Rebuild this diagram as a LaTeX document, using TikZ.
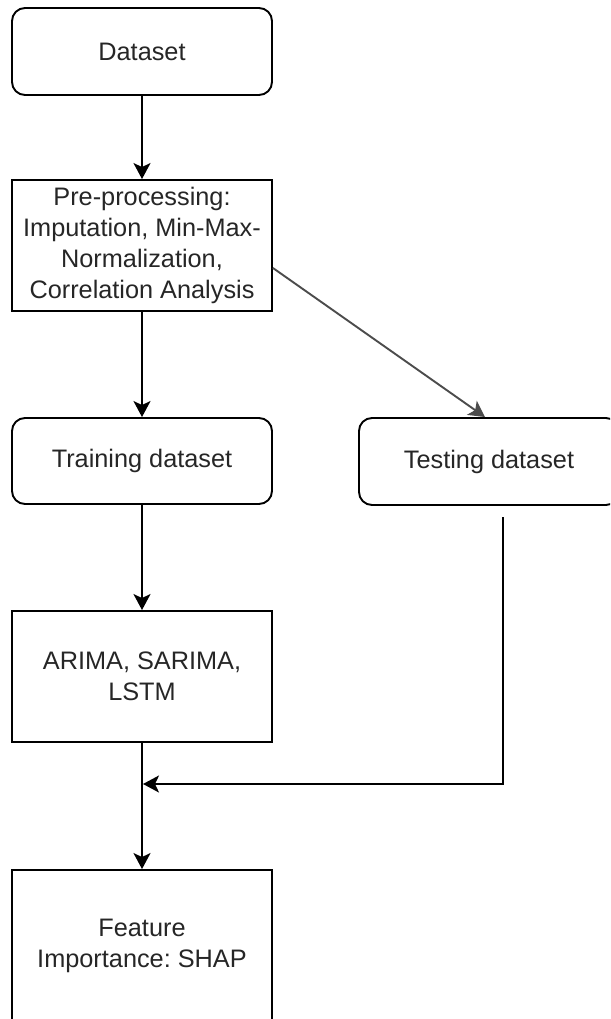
\documentclass[tikz,border=0pt]{standalone}
\usepackage{fontspec}
\setmainfont{Liberation Sans}
\usetikzlibrary{arrows.meta}
\frenchspacing

\begin{document}
\begin{tikzpicture}[x=1pt, y=-1pt,
    box/.style={draw=black, line width=1.9pt, minimum width=260pt, align=center,
        text=black!85, font=\fontsize{25.3}{31}\selectfont},
    roundbox/.style={box, rounded corners=13pt},
    flow/.style={line width=1.9pt, -{Stealth[length=16pt, width=17pt, inset=4pt]}}]
    \useasboundingbox (0,0) rectangle (610,1019);
    \clip (0,0) rectangle (610,1019);

    % Boxes
    \node[roundbox, minimum height=87pt] (data) at (142,51.5) {Dataset};
    \node[box, minimum height=131pt] (pre) at (142,245.5)
        {Pre-processing:\\Imputation, Min-Max-\\Normalization,\\Correlation Analysis};
    \node[roundbox, minimum height=86pt] (train) at (142,461) {Training dataset};
    \node[roundbox, minimum height=87pt] (test) at (489,461.5) {Testing dataset};
    \node[box, minimum height=131pt] (arima) at (142,676.5) {ARIMA, SARIMA,\\LSTM};
    \node[box, minimum height=152pt] (feat) at (142,946) {Feature\\Importance: SHAP};

    % Arrows
    \draw[flow] (data) -- (pre);
    \draw[flow, draw=black!70] ([yshift=-22.5pt]pre.east) -- ([xshift=-4pt]test.north);
    \draw[flow] (pre) -- (train);
    \draw[flow] (train) -- (arima);
    \draw[flow] (arima) -- (feat);

    % Testing dataset joins the model output
    \coordinate (tstart) at (503,517);
    \coordinate (tbend) at (503,784);
    \draw[flow] (tstart) -- (tbend) -- ([xshift=1pt]tbend -| arima.south);
\end{tikzpicture}
\end{document}
